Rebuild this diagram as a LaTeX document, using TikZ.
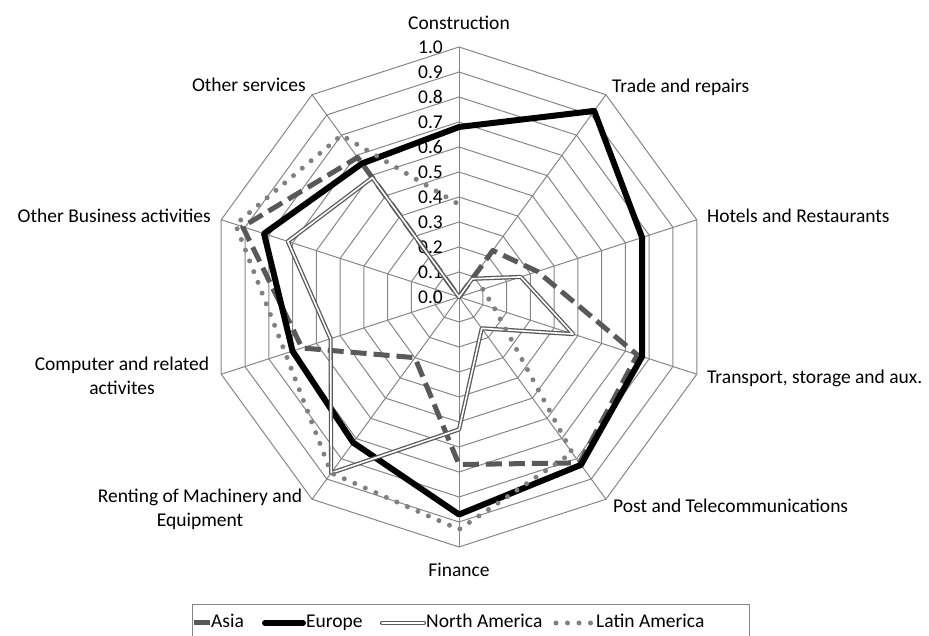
\documentclass[tikz,border=0pt]{standalone}
\usepackage{fontspec}
\setmainfont{Carlito}
\usepackage{xcolor}
\usetikzlibrary{positioning}
\definecolor{gridgray}{RGB}{134,134,134}
\definecolor{seriesgray}{RGB}{89,89,89}
\definecolor{dotgray}{RGB}{128,128,128}

\begin{document}
\begin{tikzpicture}[x=1pt,y=1pt,font=\fontsize{19.5}{24}\selectfont,line join=round]
			\tikzstyle{grid}=[draw=gridgray,line width=1pt,line join=miter]
			\tikzstyle{lbl}=[inner sep=0pt,text=black]
			\tikzstyle{asia}=[draw=seriesgray,line width=5pt,dash pattern=on 16pt off 7pt]
			\tikzstyle{europe}=[draw=black,line width=6pt]
			\tikzstyle{namerica}=[draw=seriesgray,line width=1.3pt,double=white,double distance=1.6pt]
			\tikzstyle{latam}=[draw=dotgray,line width=5pt,line cap=round,dash pattern=on 0pt off 11.5pt]
			\useasboundingbox (0,0) rectangle (929,636);
			\begin{scope}[shift={(459,339)}]
			\coordinate (c) at (0,0);
			\foreach \r in {1,...,10}
				\draw[grid] (90:\r*25) \foreach \k in {1,...,9} {-- (90-36*\k:\r*25)} -- cycle;
			\foreach \k in {0,...,9}
				\draw[grid] (c) -- (90-36*\k:250);
			\foreach \v [count=\i from 0] in {0.0,0.1,0.2,0.3,0.4,0.5,0.6,0.7,0.8,0.9,1.0}
				\node[lbl,anchor=east] (tick\i) at (-16,\i*25) {\v};
			\foreach \v [count=\k from 0] in {0,0.23,0.33,0.75,0.82,0.67,0.30,0.66,0.91,0.69}
				\coordinate (as\k) at (90-36*\k:\v*250);
			\foreach \v [count=\k from 0] in {0.68,0.92,0.77,0.77,0.83,0.87,0.72,0.70,0.82,0.66}
				\coordinate (eu\k) at (90-36*\k:\v*250);
			\foreach \v [count=\k from 0] in {0,0.09,0.26,0.48,0.155,0.53,0.87,0.54,0.72,0.59}
				\coordinate (na\k) at (90-36*\k:\v*250);
			\foreach \k/\v in {0/0.37,2/0.10,3/0.15,4/0.77,5/0.93,6/0.87,7/0.73,8/0.94,9/0.80}
				\coordinate (la\k) at (90-36*\k:\v*250);
			\draw[asia] (as0) \foreach \k in {1,...,9} {-- (as\k)} -- cycle;
			\draw[europe] (eu0) \foreach \k in {1,...,9} {-- (eu\k)} -- cycle;
			\draw[namerica] (na0) \foreach \k in {1,...,9} {-- (na\k)} -- cycle;
			\draw[latam] (la2) \foreach \k in {3,...,9} {-- (la\k)} -- (la0);
			\end{scope}
			\node[lbl,anchor=base]            (lcons)  at (459,606) {Construction};
			\node[lbl,anchor=base west]       (ltrade) at (612,543) {Trade and repairs};
			\node[lbl,anchor=base west]       (lhotel) at (707,413) {Hotels and Restaurants};
			\node[lbl,anchor=base west]       (ltrans) at (707,252) {Transport, storage and aux.};
			\node[lbl,anchor=base west]       (lpost)  at (613,123) {Post and Telecommunications};
			\node[lbl,anchor=base]            (lfin)   at (459,59)  {Finance};
			\node[lbl,anchor=base,align=center] (lrent) at (200,109) {Renting of Machinery and\\Equipment};
			\node[lbl,anchor=base,align=center] (lcomp) at (122,241) {Computer and related\\activites};
			\node[lbl,anchor=base east]       (lbus)   at (211,413) {Other Business activities};
			\node[lbl,anchor=base east]       (lserv)  at (306,544) {Other services};
			\draw[grid] (192,-2) -- (192,31) -- (749,31) -- (749,-2);
			\coordinate (kas)  at (194,13);
			\coordinate (keu)  at (265,13);
			\coordinate (kna)  at (382,13);
			\coordinate (kla)  at (556,13);
			\node[lbl,anchor=base west] (lasia) at (211,8) {Asia};
			\node[lbl,anchor=base west] (leu)   at (306,8) {Europe};
			\node[lbl,anchor=base west] (lna)   at (426,8) {North America};
			\node[lbl,anchor=base west] (lla)   at (596,8) {Latin America};
			\draw[asia] (kas) -- ([xshift=-1pt]kas -| lasia.west);
			\draw[europe,line cap=round] (keu) -- ([xshift=-3pt]keu -| leu.west);
			\draw[namerica,line cap=round] (kna) -- ([xshift=-2pt]kna -| lna.west);
			\draw[latam] (kla) -- ([xshift=-4pt]kla -| lla.west);
\end{tikzpicture}
\end{document}
